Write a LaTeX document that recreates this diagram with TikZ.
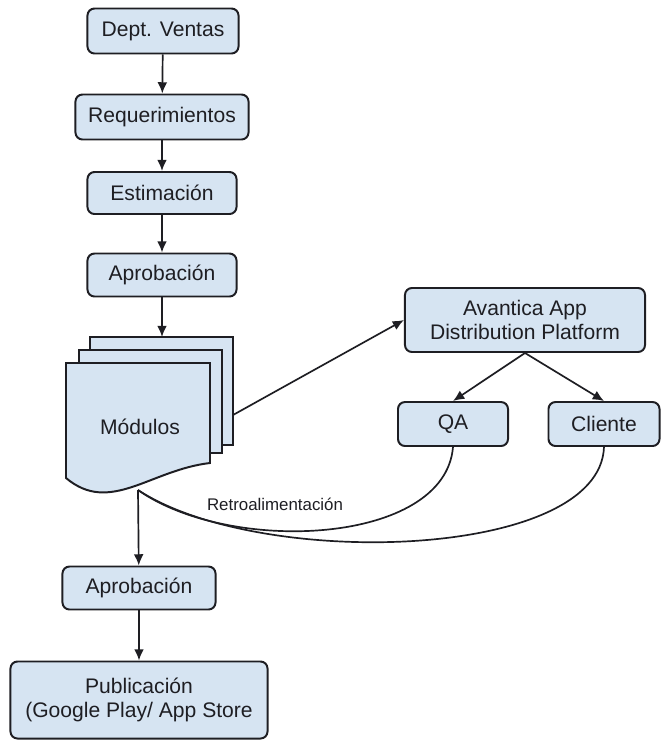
\documentclass[tikz,border=0pt]{standalone}
\usepackage{fontspec}
\setmainfont{Liberation Sans}
\usepackage{xcolor}
\usetikzlibrary{arrows.meta,positioning}

\definecolor{boxblue}{RGB}{214,228,242}
\definecolor{inkgray}{RGB}{30,30,35}

\tikzset{
  paso/.style={rectangle,rounded corners=5pt,draw=inkgray,line width=1.4pt,fill=boxblue,
    text=inkgray,font=\fontsize{15}{17}\selectfont,align=center,inner sep=0pt},
  hoja/.style={draw=inkgray,line width=1.4pt,fill=boxblue},
  flecha/.style={->,line width=1.2pt,draw=inkgray},
}

\begin{document}
\begin{tikzpicture}[x=0.025cm,y=-0.025cm,>={Latex[length=8pt,width=7pt]}]
			\useasboundingbox (0,0) rectangle (661,744);

			% flujo principal
			\node[paso,minimum width=3.775cm,minimum height=1.125cm] (dept) at (163,31) {Dept. Ventas};
			\node[paso,minimum width=4.325cm,minimum height=1.125cm] (req) at (162,117) {Requerimientos};
			\node[paso,minimum width=3.725cm,minimum height=1.05cm] (est) at (162,193) {Estimación};
			\node[paso,minimum width=3.725cm,minimum height=1.075cm] (apr) at (162,275) {Aprobación};

			% pila de modulos
			\draw[hoja] (90,337) rectangle (233,445);
			\draw[hoja] (79,350) rectangle (222,453);
			\draw[hoja] (66,363) -- (210,363) -- (210,463)
				.. controls (150,470) and (110,515) .. (66,478) -- cycle;
			\node[text=inkgray,font=\fontsize{15}{17}\selectfont] (mod) at (140,427) {Módulos};
			\coordinate (modtop) at (162,337);
			\coordinate (modder) at (233,415);
			\coordinate (modbot) at (138,490);

			% plataforma de distribucion
			\node[paso,minimum width=6cm,minimum height=1.6cm] (avan) at (525,320) {Avantica App\\Distribution Platform};
			\node[paso,minimum width=2.75cm,minimum height=1.1cm] (qa) at (453,424) {QA};
			\node[paso,minimum width=2.775cm,minimum height=1.1cm] (cli) at (604,424) {Cliente};

			\node[paso,minimum width=3.825cm,minimum height=1.075cm] (apr2) at (139,588) {Aprobación};
			\node[paso,minimum width=6.425cm,minimum height=1.925cm] (pub) at (139,700) {Publicación\\(Google Play/ App Store};

			\draw[flecha] (dept) -- (req);
			\draw[flecha] (req) -- (est);
			\draw[flecha] (est) -- (apr);
			\draw[flecha] (apr) -- (modtop);
			\draw[flecha] (modder) -- (avan.west);
			\draw[flecha] (avan.south) -- (qa.north);
			\draw[flecha] (avan.south) -- (cli.north);
			\draw[flecha] (modbot) -- (apr2);
			\draw[flecha] (apr2) -- (pub);

			% retroalimentacion
			\draw[line width=1.2pt,inkgray] (qa.south) .. controls (445,545) and (230,555) .. (modbot);
			\draw[line width=1.2pt,inkgray] (cli.south) .. controls (600,560) and (260,570) .. (modbot);
			\node[text=inkgray,font=\fontsize{12}{14}\selectfont] (retro) at (275,504) {Retroalimentación};
		\end{tikzpicture}
\end{document}
